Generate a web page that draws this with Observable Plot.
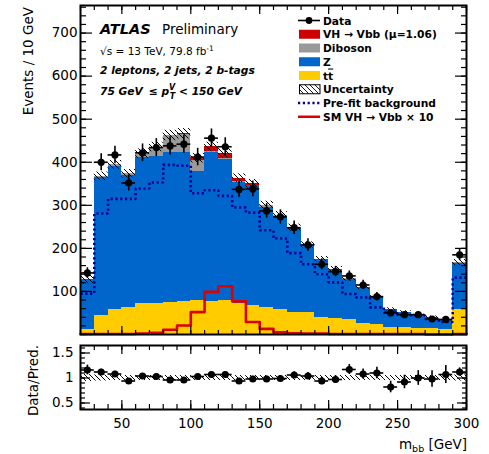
<!DOCTYPE html>
<html><head><meta charset="utf-8">
<script src="https://cdn.jsdelivr.net/npm/d3@7"></script>
<script src="https://cdn.jsdelivr.net/npm/@observablehq/plot@0.6"></script>
<style>
body{margin:0;background:#fff;}
#wrap{position:relative;width:489px;height:454px;font-family:"DejaVu Sans";}
#wrap > svg{position:absolute;left:0;overflow:visible;}
</style></head><body><div id="wrap"></div>
<script>
// ---- data ----
const binLow  = [20,30,40,50,60,70,80,90,100,110,120,130,140,150,160,170,180,190,200,210,220,230,240,250,260,270,280,290];
const binHigh = [30,40,50,60,70,80,90,100,110,120,130,140,150,160,170,180,190,200,210,220,230,240,250,260,270,280,290,300];
const ttbar   = [12,45,58,63,72,71,75,76,78,77,80,73,67,63,59,52,50,40,36,35,25,24,17,17,15,13,12,58];
const zjets   = [116,320,333,307,340,342,347,347,301,346,327,280,278,233,216,194,157,134,115,93,83,61,41,34,28,26,22,107];
const diboson = [0,2,3,3,8,22,39,41,25,2,2,2,2,3,2,2,1,1,1,1,1,1,1,1,1,1,1,2];
const vhFit   = [0.1,0.1,0.1,0.2,0.3,0.4,1.2,2.2,5.5,10.5,12,8,3,1.4,0.5,0.3,0.2,0.2,0.1,0.1,0.1,0.1,0.1,0.1,0.1,0.1,0.1,0.1];
const dataObs = [143,400,417,352,422,434,438,442,412,456,436,337,338,287,273,248,208,163,146,136,115,88,50,46,46,36,35,185];
const prefit  = [95,281,315,315,339,353,394,392,328,335,322,295,283,242,223,189,163,140,121,94,86,63,53,45,44,36,29,132];
const smVH10  = [1,1,1,1,2,4,11,21,52,99,112,77,29,13,5,3,2,2,1,1,1,1,1,1,1,0,0,1];
const uncEvents = [10,10,10,10,11,11,12,12,11,11,11,10,10,9,8,8,7,6,6,5,5,4,3,3,3,3,3,7];
const ratioVal = [1.16,1.12,1.08,0.94,1.04,1.03,0.96,0.96,1.03,1.07,1.07,0.94,0.98,0.98,0.99,1.06,1.04,0.94,0.97,1.17,1.08,1.10,0.82,0.92,1.00,0.98,1.07,1.12];
const ratioUnc = [0.07,0.06,0.05,0.05,0.05,0.05,0.05,0.05,0.05,0.05,0.05,0.05,0.05,0.05,0.05,0.05,0.05,0.05,0.05,0.05,0.05,0.05,0.05,0.05,0.05,0.05,0.05,0.06];
const compNames  = ["ttbar","Z","Diboson","VH"];
const compColors = ["#ffcc00","#0066cc","#999999","#cc0000"];
const yMajor = [0,100,200,300,400,500,600,700];
const yLabels = [100,200,300,400,500,600,700];
const xMajor = [50,100,150,200,250,300];
const ratioLabels = [0.5,1,1.5];

// ---- derived tables ----
const comps = [ttbar, zjets, diboson, vhFit];
const stackRows = compNames.flatMap((name, k) => comps[k].map((v, i) => ({name, lo: binLow[i], hi: binHigh[i], v})));
const bins = binLow.map((lo, i) => {
  const total = ttbar[i] + zjets[i] + diboson[i] + vhFit[i];
  return {lo, hi: binHigh[i], c: (lo + binHigh[i]) / 2, total, unc: uncEvents[i],
          d: dataObs[i], e: Math.sqrt(dataObs[i]), r: ratioVal[i], re: ratioVal[i] / Math.sqrt(dataObs[i]), ru: ratioUnc[i]};
});
const stepPts = (arr) => binLow.map((x, i) => ({x, v: arr[i]})).concat([{x: binHigh[binHigh.length-1], v: arr[arr.length-1]}]);

const xMinor = d3.range(20, 301, 10);
const yMinor = d3.range(0, 761, 20);
const rMinor = d3.range(0.4, 1.61, 0.1);

const SVGNS = "http://www.w3.org/2000/svg";
function addHatch(svg, id) {
  const defs = document.createElementNS(SVGNS, "defs");
  const pat = document.createElementNS(SVGNS, "pattern");
  pat.setAttribute("id", id); pat.setAttribute("patternUnits", "userSpaceOnUse");
  pat.setAttribute("width", "5"); pat.setAttribute("height", "5");
  const p = document.createElementNS(SVGNS, "path");
  p.setAttribute("d", "M0,0L5,5M-1,4L1,6M4,-1L6,1");
  p.setAttribute("stroke", "black"); p.setAttribute("stroke-width", "1"); p.setAttribute("fill", "none");
  pat.appendChild(p); defs.appendChild(pat); svg.insertBefore(defs, svg.firstChild);
}
const blank = () => "";
const common = {fontFamily: "DejaVu Sans", fontSize: "13.5px", color: "black", background: "transparent", overflow: "visible"};

// ---- upper panel ----
const upperPlot = Plot.plot({
  width: 489, height: 340, marginLeft: 80, marginRight: 23, marginTop: 5, marginBottom: 6,
  x: {domain: [20, 300], label: null},
  y: {domain: [0, 764], label: null},
  color: {domain: compNames, range: compColors},
  style: common,
  marks: [
    Plot.rectY(stackRows, {x1: "lo", x2: "hi", y: "v", fill: "name", order: compNames, shapeRendering: "crispEdges"}),
    Plot.rect(bins, {x1: "lo", x2: "hi", y1: d => d.total - d.unc, y2: d => d.total + d.unc, fill: "url(#hatchA)"}),
    Plot.line(stepPts(prefit), {x: "x", y: "v", curve: "step-after", stroke: "#000099", strokeWidth: 2.6, strokeDasharray: "2.2,2.6", strokeLinecap: "butt", strokeLinejoin: "miter"}),
    Plot.line(stepPts(smVH10), {x: "x", y: "v", curve: "step-after", stroke: "#dd0000", strokeWidth: 2.6}),
    Plot.ruleX(bins, {x: "c", y1: d => d.d - d.e, y2: d => d.d + d.e, stroke: "black", strokeWidth: 1.6}),
    Plot.ruleY(bins, {y: "d", x1: "lo", x2: "hi", stroke: "black", strokeWidth: 1.6}),
    Plot.dot(bins, {x: "c", y: "d", r: 3.6, fill: "black", stroke: null}),
    Plot.frame({stroke: "black", strokeWidth: 2}),
    Plot.axisY(yMajor, {anchor: "left", tickSize: -12, tickFormat: blank, label: null, strokeWidth: 1.2}),
    Plot.axisY(yMinor, {anchor: "left", tickSize: -6, tickFormat: blank, label: null, strokeWidth: 1.2}),
    Plot.axisY(yMajor, {anchor: "right", tickSize: -12, tickFormat: blank, label: null, strokeWidth: 1.2}),
    Plot.axisY(yMinor, {anchor: "right", tickSize: -6, tickFormat: blank, label: null, strokeWidth: 1.2}),
    Plot.axisY(yLabels, {anchor: "left", tickSize: 0, tickPadding: 3, label: null, tickFormat: d => String(d)}),
    Plot.axisX(xMajor, {anchor: "bottom", tickSize: -8, tickFormat: blank, label: null, strokeWidth: 1.2}),
    Plot.axisX(xMinor, {anchor: "bottom", tickSize: -4, tickFormat: blank, label: null, strokeWidth: 1.2}),
    Plot.axisX(xMajor, {anchor: "top", tickSize: -8, tickFormat: blank, label: null, strokeWidth: 1.2}),
    Plot.axisX(xMinor, {anchor: "top", tickSize: -4, tickFormat: blank, label: null, strokeWidth: 1.2})
  ]
});
addHatch(upperPlot, "hatchA");
upperPlot.style.top = "0px";

// ---- ratio panel ----
const lowerPlot = Plot.plot({
  width: 489, height: 114, marginLeft: 80, marginRight: 23, marginTop: 5, marginBottom: 45,
  x: {domain: [20, 300], label: null},
  y: {domain: [0.37, 1.65], label: null},
  style: common,
  marks: [
    Plot.rect(bins, {x1: "lo", x2: "hi", y1: d => 1 - d.ru, y2: d => 1 + d.ru, fill: "url(#hatchB)"}),
    Plot.ruleX(bins, {x: "c", y1: d => d.r - d.re, y2: d => d.r + d.re, stroke: "black", strokeWidth: 1.6}),
    Plot.ruleY(bins, {y: "r", x1: "lo", x2: "hi", stroke: "black", strokeWidth: 1.6}),
    Plot.dot(bins, {x: "c", y: "r", r: 3.6, fill: "black", stroke: null}),
    Plot.frame({stroke: "black", strokeWidth: 2}),
    Plot.axisY(ratioLabels, {anchor: "left", tickSize: -10, tickFormat: blank, label: null, strokeWidth: 1.2}),
    Plot.axisY(rMinor, {anchor: "left", tickSize: -5, tickFormat: blank, label: null, strokeWidth: 1.2}),
    Plot.axisY(ratioLabels, {anchor: "right", tickSize: -10, tickFormat: blank, label: null, strokeWidth: 1.2}),
    Plot.axisY(rMinor, {anchor: "right", tickSize: -5, tickFormat: blank, label: null, strokeWidth: 1.2}),
    Plot.axisY(ratioLabels, {anchor: "left", tickSize: 0, tickPadding: 7, label: null, tickFormat: d => String(d)}),
    Plot.axisX(xMajor, {anchor: "bottom", tickSize: -9, tickFormat: blank, label: null, strokeWidth: 1.2}),
    Plot.axisX(xMinor, {anchor: "bottom", tickSize: -5, tickFormat: blank, label: null, strokeWidth: 1.2}),
    Plot.axisX(xMajor, {anchor: "top", tickSize: -8, tickFormat: blank, label: null, strokeWidth: 1.2}),
    Plot.axisX(xMinor, {anchor: "top", tickSize: -4, tickFormat: blank, label: null, strokeWidth: 1.2}),
    Plot.axisX(xMajor, {anchor: "bottom", tickSize: 0, tickPadding: 9, label: null, tickFormat: d => String(d)})
  ]
});
addHatch(lowerPlot, "hatchB");
lowerPlot.style.top = "340px";

const wrap = document.getElementById("wrap");
wrap.appendChild(upperPlot);
wrap.appendChild(lowerPlot);

// ---- overlay: texts and legend ----
const legendItems = [
  {kind: "data", label: "Data"},
  {kind: "box", color: compColors[3], label: "VH \u2192 Vbb (\u03bc=1.06)"},
  {kind: "box", color: compColors[2], label: "Diboson"},
  {kind: "box", color: compColors[1], label: "Z"},
  {kind: "box", color: compColors[0], label: "tt"},
  {kind: "hatch", label: "Uncertainty"},
  {kind: "dots", label: "Pre-fit background"},
  {kind: "line", label: "SM VH \u2192 Vbb \u00d7 10"}
];
let leg = "";
legendItems.forEach((it, i) => {
  const y = 20.5 + i * 13.75;
  if (it.kind === "data") leg += `<line x1="298" x2="320" y1="${y}" y2="${y}" stroke="black" stroke-width="1.6"/><circle cx="309" cy="${y}" r="3.4" fill="black"/>`;
  if (it.kind === "box") leg += `<rect x="299" y="${y-4.5}" width="21" height="9" fill="${it.color}"/>`;
  if (it.kind === "hatch") leg += `<rect x="299.5" y="${y-4.5}" width="20.5" height="9" fill="url(#hatchC)" stroke="black" stroke-width="1"/>`;
  if (it.kind === "dots") leg += `<line x1="298" x2="320" y1="${y}" y2="${y}" stroke="#000099" stroke-width="2.6" stroke-dasharray="2.2,2.6"/>`;
  if (it.kind === "line") leg += `<line x1="298" x2="320" y1="${y}" y2="${y}" stroke="#dd0000" stroke-width="2.5"/>`;
  let lbl = it.label;
  if (it.label === "tt") lbl = `t<tspan text-decoration="overline">t</tspan>`;
  leg += `<text x="323" y="${y + 4}" font-weight="bold" font-size="10.7">${lbl}</text>`;
});
const overlay = `<svg xmlns="${SVGNS}" width="489" height="454" style="top:0;pointer-events:none" font-family="DejaVu Sans" fill="black">
<defs><pattern id="hatchC" patternUnits="userSpaceOnUse" width="5" height="5"><path d="M0,0L5,5M-1,4L1,6M4,-1L6,1" stroke="black" stroke-width="0.9" fill="none"/></pattern></defs>
<text x="100" y="34" font-weight="bold" font-style="italic" font-size="14.5">ATLAS</text>
<text x="162" y="34" font-size="13.5">Preliminary</text>
<text x="100" y="55" font-size="10.5">\u221As = 13 TeV, 79.8 fb<tspan dy="-4" font-size="7.5">-1</tspan></text>
<text x="100" y="74" font-weight="bold" font-style="italic" font-size="10.7">2 leptons, 2 jets, 2 b-tags</text>
<text x="100" y="95" font-weight="bold" font-style="italic" font-size="10.7">75 GeV \u2009\u2264 p<tspan dy="-5" font-size="8">V</tspan><tspan dx="-5.5" dy="9" font-size="8">T</tspan><tspan dy="-4"> &lt; 150 GeV</tspan></text>
${leg}
<text transform="translate(33,7) rotate(-90)" text-anchor="end" font-size="13.5">Events / 10 GeV</text>
<text transform="translate(38,345) rotate(-90)" text-anchor="end" font-size="13.5">Data/Pred.</text>
<text x="467" y="449" text-anchor="end" font-size="13.5">m<tspan dy="3" font-size="9.5">bb</tspan><tspan dy="-3"> [GeV]</tspan></text>
</svg>`;
wrap.insertAdjacentHTML("beforeend", overlay);
</script>
</body></html>
